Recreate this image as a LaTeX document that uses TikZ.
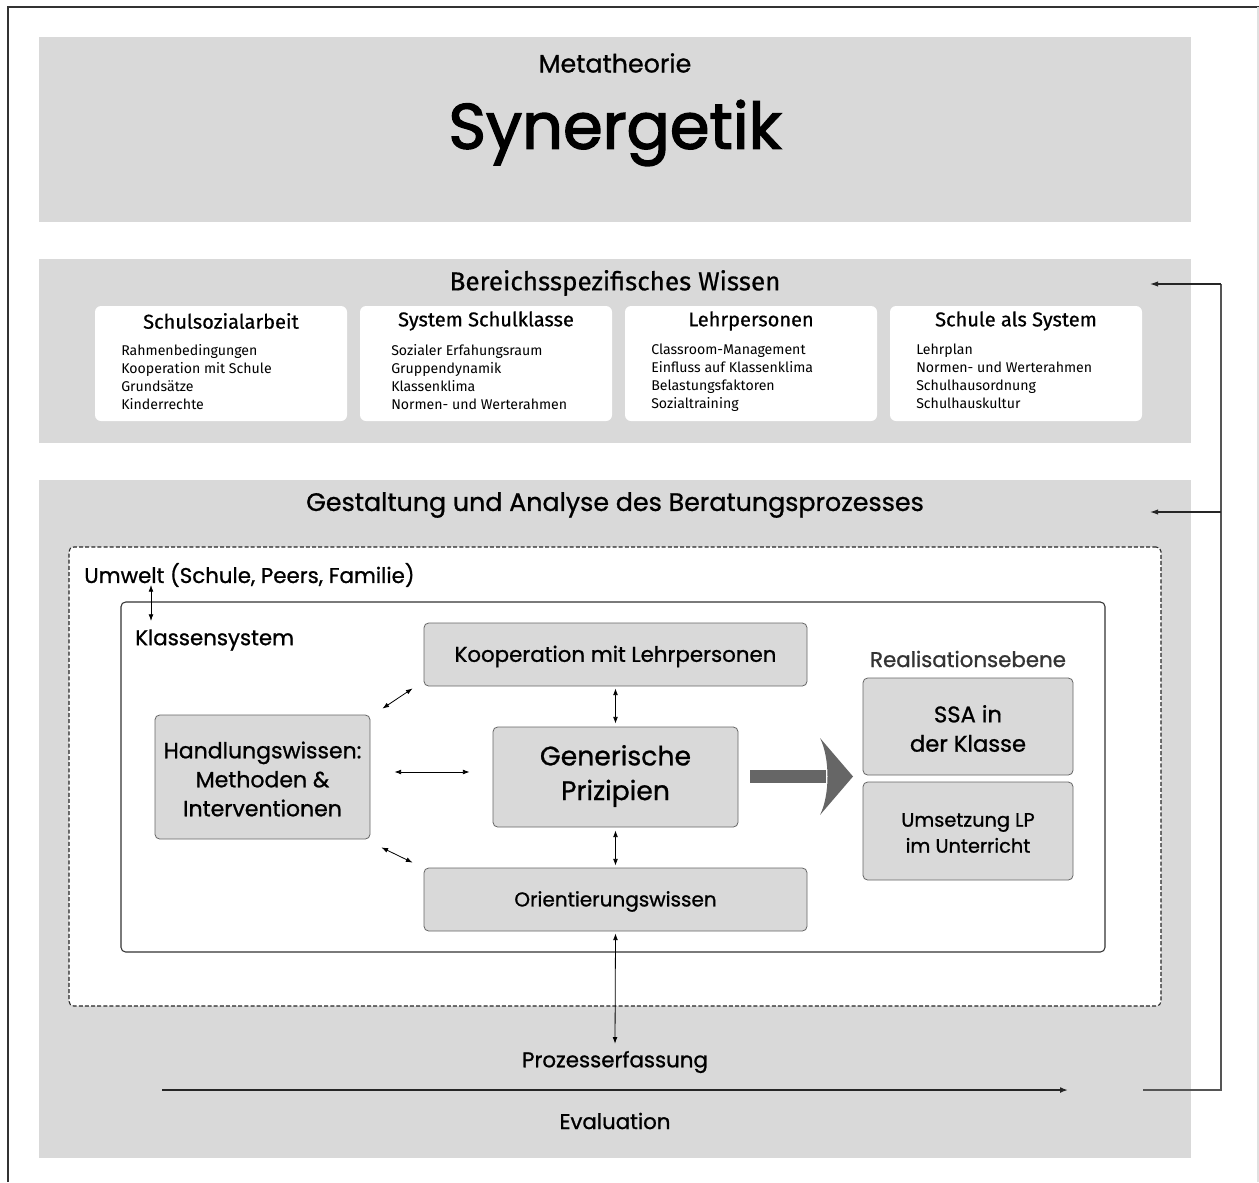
\documentclass[tikz,border=0pt]{standalone}
\usepackage{fontspec}
\setmainfont{Fira Sans}
\newfontfamily\firam[FakeBold=0.6]{Fira Sans}
\newfontfamily\geo[FakeBold=0.9]{Poppins}
\newfontfamily\geob[FakeBold=2.2]{Poppins}
\usetikzlibrary{arrows.meta,fit,calc}
\definecolor{boxgray}{HTML}{D9D9D9}
\definecolor{edgegray}{HTML}{666666}
\definecolor{linegray}{HTML}{555555}
\definecolor{arrgray}{HTML}{666666}
\begin{document}
\begin{tikzpicture}[x=0.75pt,y=-0.75pt,
  band/.style={fill=boxgray,draw=none,inner sep=0pt},
  wbox/.style={fill=white,draw=none,rounded corners=4.5pt,inner sep=0pt},
  gbox/.style={fill=boxgray,draw=edgegray,line width=0.6pt,rounded corners=3.5pt,inner sep=0pt,align=center,font=\geo\fontsize{16}{20}\selectfont},
  hdr/.style={font=\firam\fontsize{15}{18}\selectfont,inner sep=0pt},
  items/.style={font=\fontsize{10.6}{13.5}\selectfont,align=left,anchor=north west,inner sep=0pt},
  gtxt/.style={font=\geo\fontsize{16}{20}\selectfont,inner sep=0pt},
  dbl/.style={{Latex[length=5pt,width=3.6pt]}-{Latex[length=5pt,width=3.6pt]},line width=0.6pt},
  fb/.style={draw=linegray,line width=1.1pt}
]
\useasboundingbox (0,0) rectangle (1259,1182);
% outer frame
\draw[draw=black!80,line width=1.2pt] (8,1182) -- (8,7) -- (1259,7);
\draw[draw=black!12,line width=1pt] (1258,7) -- (1258,1182);

% Metatheorie
\node[band,fit={(39,37) (1191,222)}] (meta) {};
\node[gtxt,font=\geo\fontsize{19}{22}\selectfont] (metat) at (615,63) {Metatheorie};
\node[gtxt,font=\geob\fontsize{48}{56}\selectfont] (syn) at (615,133) {Synergetik};

% Bereichsspezifisches Wissen
\node[band,fit={(39,259) (1191,443)}] (bws) {};
\node[hdr,font=\firam\fontsize{19.5}{22}\selectfont] (bwst) at (615,283) {Bereichsspezifisches Wissen};

\node[wbox,fit={(95,306) (347,421)}] (w1) {};
\node[wbox,fit={(360,306) (612,421)}] (w2) {};
\node[wbox,fit={(625,306) (877,421)}] (w3) {};
\node[wbox,fit={(890,306) (1142,421)}] (w4) {};

\node[hdr] (h1) at (221,321) {Schulsozialarbeit};
\node[hdr] (h2) at (486,321) {System Schulklasse};
\node[hdr] (h3) at (751,321) {Lehrpersonen};
\node[hdr] (h4) at (1016,321) {Schule als System};

\node[items] (i1) at (121,344) {Rahmenbedingungen\\Kooperation mit Schule\\Grundsätze\\Kinderrechte};
\node[items] (i2) at (391,344) {Sozialer Erfahungsraum\\Gruppendynamik\\Klassenklima\\Normen- und Werterahmen};
\node[items] (i3) at (651,344) {Classroom-Management\\Einfluss auf Klassenklima\\Belastungsfaktoren\\Sozialtraining};
\node[items] (i4) at (916,344) {Lehrplan\\Normen- und Werterahmen\\Schulhausordnung\\Schulhauskultur};

% Gestaltung und Analyse
\node[band,fit={(39,480) (1191,1158)}] (gab) {};
\node[gtxt,font=\geo\fontsize{19}{22}\selectfont] (gabt) at (615,505) {Gestaltung und Analyse des Beratungsprozesses};

\node[fill=white,draw=black!85,dash pattern=on 3pt off 1.6pt,line width=0.8pt,rounded corners=3.5pt,inner sep=0pt,fit={(69,547) (1161,1006)}] (umw) {};
\node[gtxt,anchor=west] (umwt) at (84,575) {Umwelt (Schule, Peers, Familie)};

\node[fill=white,draw=black!80,line width=0.8pt,rounded corners=3.5pt,inner sep=0pt,fit={(121,602) (1105,952)}] (kls) {};
\node[gtxt,anchor=west] (klst) at (135,640) {Klassensystem};

\coordinate (ua) at (151,585);
\coordinate (ub) at (151,621);
\draw[dbl] (ua) -- (ub);

\node[gbox,fit={(424,623) (807,686)}] (koop) {};
\node[gtxt] at ($(koop.center)+(0,2)$) {Kooperation mit Lehrpersonen};
\node[gbox,fit={(155,715) (370,839)}] (hand) {};
\node[gtxt,align=center,font=\geo\fontsize{16.5}{21.75}\selectfont] at ($(hand.center)+(0,2)$) {Handlungswissen:\\Methoden \&\\Interventionen};
\node[gbox,fit={(493,727) (738,827)}] (gen) {};
\node[gtxt,align=center,font=\geo\fontsize{20}{26}\selectfont] at ($(gen.center)+(0,-1)$) {Generische\\Prizipien};
\node[gbox,fit={(424,868) (807,931)}] (orient) {};
\node[gtxt,font=\geo\fontsize{15}{18}\selectfont] at ($(orient.center)+(0,2)$) {Orientierungswissen};

\node[gtxt,text=black!80] (real) at (968,659) {Realisationsebene};
\node[gbox,fit={(863,678) (1073,775)}] (ssa) {};
\node[gtxt,align=center,font=\geo\fontsize{17}{22}\selectfont] at ($(ssa.center)+(0,2)$) {SSA in\\der Klasse};
\node[gbox,fit={(863,782) (1073,880)}] (ums) {};
\node[gtxt,align=center,font=\geo\fontsize{14.5}{19.5}\selectfont] at ($(ums.center)+(0,2)$) {Umsetzung LP\\im Unterricht};

% connectors
\draw[dbl] ($(koop.south)+(0,2)$) -- ($(gen.north)+(0,-3)$);
\draw[dbl] ($(gen.south)+(0,3)$) -- ($(orient.north)+(0,-2)$);
\draw[dbl] ($(hand.east)+(24,-5)$) -- ($(gen.west)+(-23,-5)$);
\draw[dbl] ($(hand.north east)+(12,-6)$) -- ($(koop.south west)+(-11,2)$);
\draw[dbl] ($(hand.south east)+(11,8)$) -- ($(orient.north west)+(-11,-5)$);

% big arrow
\fill[arrgray] (750,770) -- (826,770) -- (826,783) -- (750,783) -- cycle;
\fill[arrgray] (820,738) -- (853,776.5) -- (820,815) .. controls (830,795) and (830,758) .. cycle;
\coordinate (bigA) at (750,776.5);
\coordinate (bigB) at (853,776.5);

% Prozesserfassung / Evaluation
\node[gtxt] (proz) at (615,1062) {Prozesserfassung};
\node[gtxt] (eval) at (615,1121) {Evaluation};
\draw[dbl] ($(orient.south)+(0,2)$) -- ($(proz.north)+(0,-7)$);

\coordinate (evs) at (162,1090);
\coordinate (eve) at (1068,1090);
\draw[line width=1.5pt,draw=black!85,-{Latex[length=6pt,width=4.5pt]}] (evs) -- (eve);

% feedback loop
\coordinate (fbs) at (1143,1090);
\coordinate (fbc) at (1221,1090);
\coordinate (fbt) at (1221,284);
\coordinate (fbm) at (1221,512);
\coordinate (fbe1) at (1150,284);
\coordinate (fbe2) at (1150,512);
\draw[fb] (fbs) -- (fbc) -- (fbt);
\draw[line width=0.8pt,draw=black!85,-{Latex[length=6pt,width=4pt]}] (fbt) -- (fbe1);
\draw[line width=0.8pt,draw=black!85,-{Latex[length=6pt,width=4pt]}] (fbm) -- (fbe2);
\end{tikzpicture}
\end{document}
